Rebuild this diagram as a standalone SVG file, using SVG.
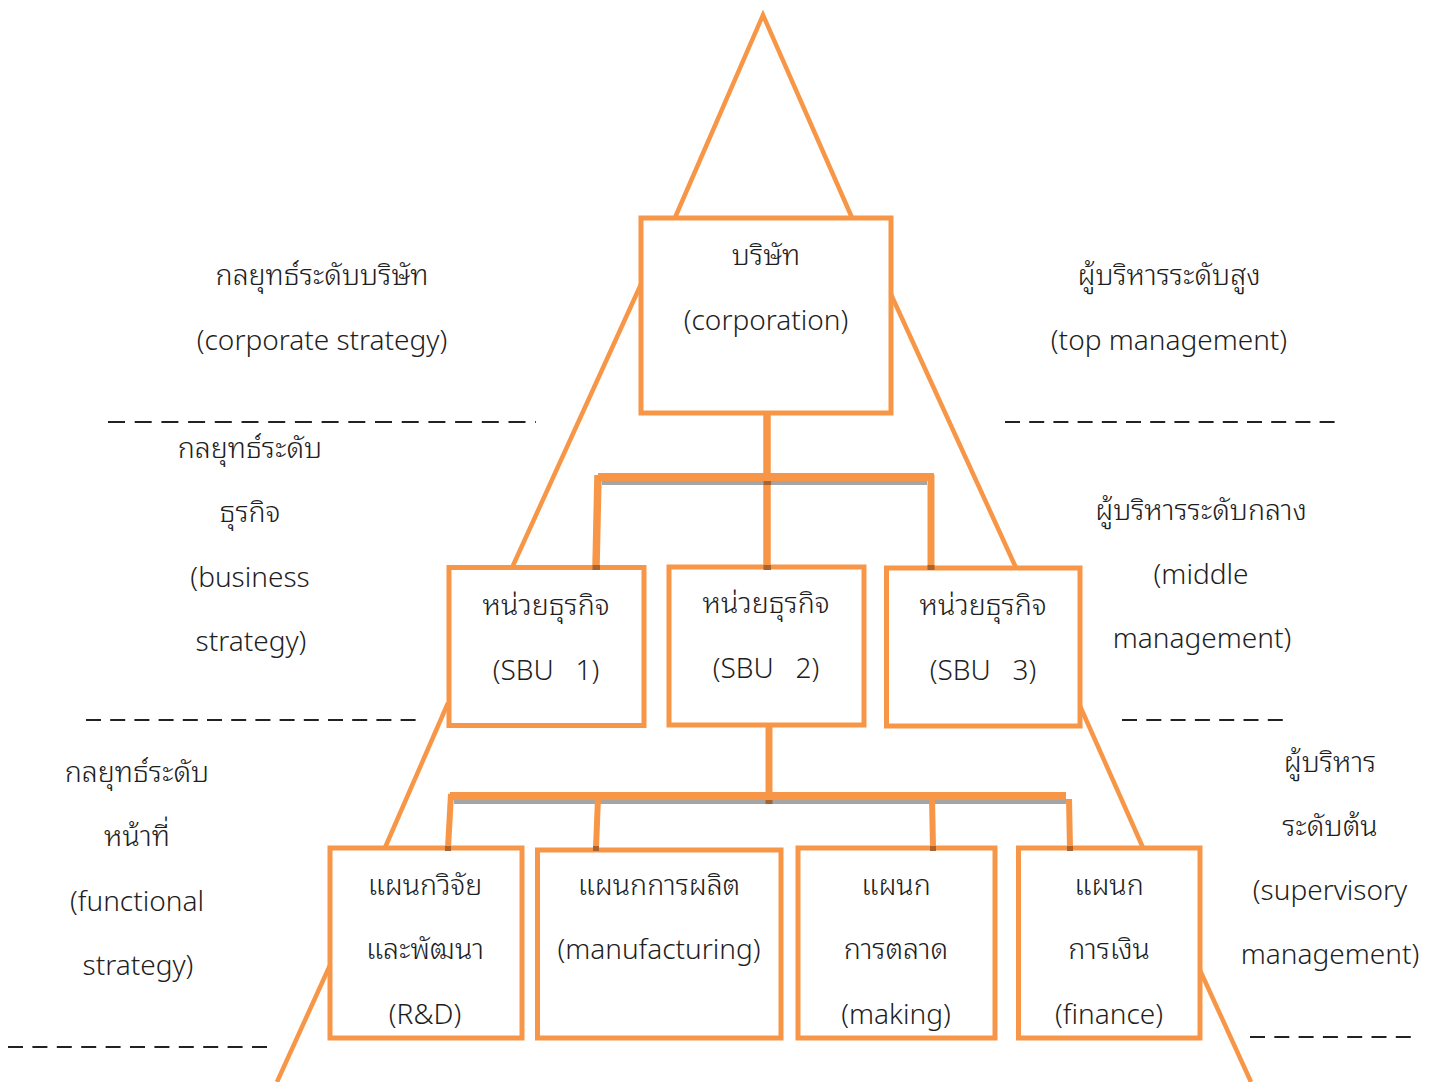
<svg xmlns="http://www.w3.org/2000/svg" width="1436" height="1082" viewBox="0 0 1436 1082">
  <style>
    .edge { stroke: #F79646; stroke-width: 4.5; fill: none; stroke-linecap: butt; }
    .box { fill: #FFFFFF; stroke: #F79646; stroke-width: 5; }
    .bar { fill: #F79646; }
    .shadow { fill: #A5A5A5; }
    .joint { fill: #A8632F; }
    .link { stroke: #F79646; fill: none; }
    .rule { stroke: #222222; stroke-width: 2; fill: none; }
    text { font-family: "Noto Sans Thai Looped", "Noto Serif Thai", "Noto Sans Thai", "Noto Sans", "DejaVu Sans", sans-serif; font-size: 28px; font-weight: 300; fill: #1E1E1E; text-anchor: middle; }
    text.th { font-size: 28.6px; }
  </style>

  <rect width="1436" height="1082" fill="#FFFFFF"/>

  <!-- outer pyramid outline, drawn in pieces between the boxes -->
  <g id="pyramid">
    <polyline class="edge" points="674,220 763,15 853,220"/>
    <line class="edge" x1="642" y1="282" x2="511" y2="570"/>
    <line class="edge" x1="448" y1="703" x2="384" y2="850"/>
    <line class="edge" x1="331" y1="963" x2="277" y2="1082"/>
    <line class="edge" x1="889" y1="290" x2="1017" y2="570"/>
    <line class="edge" x1="1080" y1="706" x2="1144" y2="850"/>
    <line class="edge" x1="1199" y1="968" x2="1251" y2="1082"/>
  </g>

  <!-- level separators -->
  <g id="separators">
    <line class="rule" x1="108" y1="422" x2="536" y2="422" stroke-dasharray="17 9.7"/>
    <line class="rule" x1="1005" y1="422" x2="1336" y2="422" stroke-dasharray="15 9.2"/>
    <line class="rule" x1="86" y1="720" x2="416" y2="720" stroke-dasharray="15 9.2"/>
    <line class="rule" x1="1122" y1="720" x2="1284" y2="720" stroke-dasharray="15 9.3"/>
    <line class="rule" x1="8" y1="1047" x2="268" y2="1047" stroke-dasharray="15 9.4"/>
    <line class="rule" x1="1250" y1="1037" x2="1412" y2="1037" stroke-dasharray="15 9.3"/>
  </g>

  <!-- connectors -->
  <g id="connectors">
    <!-- corporation to business units -->
    <line class="link" x1="767" y1="413" x2="767" y2="477" stroke-width="7.5"/>
    <rect class="shadow" x="602" y="481" width="325" height="4"/>
    <rect class="bar" x="598" y="473" width="336" height="8"/>
    <line class="link" x1="598" y1="475" x2="596" y2="567" stroke-width="7.5"/>
    <line class="link" x1="767" y1="481" x2="767" y2="567" stroke-width="7.5"/>
    <line class="link" x1="931" y1="475" x2="931" y2="567" stroke-width="7"/>
    <!-- SBU 2 to functional departments -->
    <line class="link" x1="769" y1="725" x2="769" y2="796" stroke-width="7"/>
    <rect class="shadow" x="454" y="800" width="612" height="4"/>
    <rect class="bar" x="450" y="792" width="616" height="8"/>
    <line class="link" x1="451" y1="794" x2="448" y2="848" stroke-width="6"/>
    <line class="link" x1="598" y1="798" x2="596" y2="848" stroke-width="6"/>
    <line class="link" x1="932" y1="798" x2="933" y2="848" stroke-width="6"/>
    <line class="link" x1="1069" y1="799" x2="1070" y2="848" stroke-width="6"/>
  </g>

  <!-- corporate level -->
  <g id="corporation">
    <rect class="box" x="641" y="218" width="250" height="195"/>
    <text class="th" x="766" y="265">บริษัท</text>
    <text x="766" y="330">(corporation)</text>
  </g>

  <!-- business units -->
  <g id="sbu1">
    <rect class="box" x="449" y="567.5" width="195" height="158"/>
    <text class="th" x="546" y="615">หน่วยธุรกิจ</text>
    <text x="546" y="680" xml:space="preserve">(SBU   1)</text>
  </g>
  <g id="sbu2">
    <rect class="box" x="669" y="567" width="195" height="158"/>
    <text class="th" x="766" y="613">หน่วยธุรกิจ</text>
    <text x="766" y="678" xml:space="preserve">(SBU   2)</text>
  </g>
  <g id="sbu3">
    <rect class="box" x="886.5" y="568" width="193.5" height="158"/>
    <text class="th" x="983" y="615">หน่วยธุรกิจ</text>
    <text x="983" y="680" xml:space="preserve">(SBU   3)</text>
  </g>

  <!-- functional departments -->
  <g id="rnd">
    <rect class="box" x="330" y="848" width="192" height="190"/>
    <text class="th" x="425" y="895">แผนกวิจัย</text>
    <text class="th" x="425" y="959">และพัฒนา</text>
    <text x="425" y="1024">(R&amp;D)</text>
  </g>
  <g id="manufacturing">
    <rect class="box" x="537.5" y="850" width="243.5" height="188"/>
    <text class="th" x="659" y="895">แผนกการผลิต</text>
    <text x="659" y="959">(manufacturing)</text>
  </g>
  <g id="marketing">
    <rect class="box" x="798" y="848" width="197" height="190"/>
    <text class="th" x="896" y="895">แผนก</text>
    <text class="th" x="896" y="959">การตลาด</text>
    <text x="896" y="1024">(making)</text>
  </g>
  <g id="finance">
    <rect class="box" x="1018.5" y="848" width="181.5" height="190"/>
    <text class="th" x="1109" y="895">แผนก</text>
    <text class="th" x="1109" y="959">การเงิน</text>
    <text x="1109" y="1024">(finance)</text>
  </g>

  <!-- darker spots where the connectors meet the boxes -->
  <g id="joints">
    <rect class="joint" x="763.5" y="481" width="7.5" height="4"/>
    <rect class="joint" x="592.5" y="565" width="7.5" height="5"/>
    <rect class="joint" x="763.5" y="565" width="7.5" height="5"/>
    <rect class="joint" x="927.5" y="565" width="7" height="5"/>
    <rect class="joint" x="765.5" y="800" width="7" height="4"/>
    <rect class="joint" x="445" y="846" width="6" height="5"/>
    <rect class="joint" x="593" y="846" width="6" height="5"/>
    <rect class="joint" x="930" y="846" width="6" height="5"/>
    <rect class="joint" x="1067" y="846" width="6" height="5"/>
  </g>

  <!-- strategy levels (left) -->
  <g id="strategy-labels">
    <text class="th" x="322" y="285">กลยุทธ์ระดับบริษัท</text>
    <text x="322" y="350">(corporate strategy)</text>
    <text class="th" x="250" y="458">กลยุทธ์ระดับ</text>
    <text class="th" x="250" y="522">ธุรกิจ</text>
    <text x="250" y="587">(business</text>
    <text x="251" y="651">strategy)</text>
    <text class="th" x="137" y="782">กลยุทธ์ระดับ</text>
    <text class="th" x="137" y="846">หน้าที่</text>
    <text x="137" y="911">(functional</text>
    <text x="138" y="975">strategy)</text>
  </g>

  <!-- management levels (right) -->
  <g id="management-labels">
    <text class="th" x="1169" y="285">ผู้บริหารระดับสูง</text>
    <text x="1169" y="350">(top management)</text>
    <text class="th" x="1201" y="520">ผู้บริหารระดับกลาง</text>
    <text x="1201" y="584">(middle</text>
    <text x="1202" y="648">management)</text>
    <text class="th" x="1330" y="772">ผู้บริหาร</text>
    <text class="th" x="1330" y="836">ระดับต้น</text>
    <text x="1330" y="900">(supervisory</text>
    <text x="1330" y="964">management)</text>
  </g>
</svg>
